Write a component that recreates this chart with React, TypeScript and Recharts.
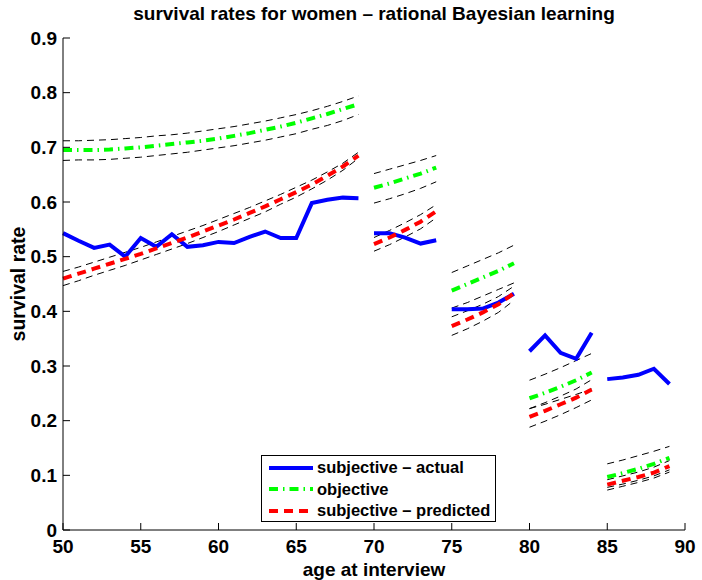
import { LineChart, Line, XAxis, YAxis } from "recharts";

// ages at interview, one cohort every 5 years
const ages = [
  50, 51, 52, 53, 54, 55, 56, 57, 58, 59, 60, 61, 62, 63, 64, 65, 66, 67, 68, 69,
  70, 71, 72, 73, 74,
  75, 76, 77, 78, 79,
  80, 81, 82, 83, 84,
  85, 86, 87, 88, 89,
];
const cohortStarts = [70, 75, 80, 85];

const actual = [
  0.543, 0.529, 0.516, 0.522, 0.5, 0.534, 0.518, 0.541, 0.518, 0.521, 0.527, 0.525, 0.536, 0.546, 0.534, 0.534, 0.598, 0.604, 0.608, 0.607,
  0.543, 0.543, 0.535, 0.524, 0.53,
  0.404, 0.404, 0.405, 0.416, 0.432,
  0.327, 0.356, 0.324, 0.313, 0.361,
  0.276, 0.279, 0.284, 0.295, 0.267,
];
const objective = [
  0.695, 0.695, 0.695, 0.696, 0.698, 0.7, 0.703, 0.706, 0.709, 0.712, 0.716, 0.721, 0.726, 0.732, 0.738, 0.745, 0.753, 0.761, 0.77, 0.779,
  0.626, 0.634, 0.643, 0.652, 0.663,
  0.438, 0.45, 0.462, 0.474, 0.488,
  0.241, 0.251, 0.262, 0.274, 0.288,
  0.097, 0.104, 0.112, 0.121, 0.132,
];
const objectiveHi = [
  0.712, 0.712, 0.713, 0.714, 0.716, 0.718, 0.721, 0.723, 0.726, 0.73, 0.734, 0.738, 0.743, 0.748, 0.754, 0.76, 0.767, 0.775, 0.784, 0.794,
  0.652, 0.66, 0.668, 0.676, 0.685,
  0.471, 0.483, 0.495, 0.507, 0.521,
  0.274, 0.285, 0.297, 0.31, 0.323,
  0.121, 0.128, 0.136, 0.144, 0.153,
];
const objectiveLo = [
  0.676, 0.677, 0.677, 0.678, 0.68, 0.682, 0.685, 0.688, 0.691, 0.695, 0.699, 0.703, 0.708, 0.713, 0.719, 0.725, 0.733, 0.74, 0.749, 0.76,
  0.598, 0.606, 0.615, 0.625, 0.637,
  0.406, 0.416, 0.428, 0.44, 0.452,
  0.222, 0.23, 0.239, 0.248, 0.258,
  0.078, 0.084, 0.091, 0.099, 0.11,
];
const predicted = [
  0.46, 0.469, 0.478, 0.487, 0.496, 0.505, 0.515, 0.525, 0.535, 0.546, 0.557, 0.568, 0.58, 0.592, 0.605, 0.618, 0.632, 0.648, 0.665, 0.685,
  0.523, 0.535, 0.549, 0.564, 0.583,
  0.373, 0.385, 0.398, 0.413, 0.433,
  0.207, 0.218, 0.23, 0.242, 0.257,
  0.083, 0.09, 0.097, 0.105, 0.117,
];
const predictedHi = [
  0.473, 0.481, 0.49, 0.499, 0.508, 0.517, 0.527, 0.537, 0.547, 0.557, 0.568, 0.579, 0.59, 0.602, 0.614, 0.627, 0.64, 0.655, 0.671, 0.691,
  0.535, 0.548, 0.562, 0.577, 0.595,
  0.39, 0.401, 0.413, 0.427, 0.446,
  0.222, 0.233, 0.245, 0.258, 0.275,
  0.092, 0.099, 0.106, 0.115, 0.127,
];
const predictedLo = [
  0.447, 0.456, 0.466, 0.475, 0.484, 0.494, 0.504, 0.514, 0.524, 0.535, 0.546, 0.558, 0.57, 0.582, 0.596, 0.609, 0.624, 0.64, 0.658, 0.68,
  0.51, 0.522, 0.536, 0.551, 0.571,
  0.356, 0.368, 0.382, 0.398, 0.42,
  0.188, 0.199, 0.211, 0.224, 0.238,
  0.073, 0.08, 0.087, 0.095, 0.106,
];

const xTicks = [50, 55, 60, 65, 70, 75, 80, 85, 90];
const yTicks = [0, 0.1, 0.2, 0.3, 0.4, 0.5, 0.6, 0.7, 0.8, 0.9];

const FONT = '"Liberation Sans", Arial, Helvetica, sans-serif';

// rows for the chart, with an empty row between cohorts so lines break
const rows: any[] = [];
ages.forEach((age, i) => {
  if (cohortStarts.includes(age)) {
    rows.push({
      age: age - 0.5,
      actual: null, objective: null, objectiveHi: null, objectiveLo: null,
      predicted: null, predictedHi: null, predictedLo: null,
    });
  }
  rows.push({
    age,
    actual: actual[i],
    objective: objective[i],
    objectiveHi: objectiveHi[i],
    objectiveLo: objectiveLo[i],
    predicted: predicted[i],
    predictedHi: predictedHi[i],
    predictedLo: predictedLo[i],
  });
});

const tickStyle = { fill: "#000", fontSize: 19, fontWeight: "bold", fontFamily: FONT };

const bandProps = {
  stroke: "#000",
  strokeWidth: 1,
  strokeDasharray: "7 5",
  dot: false,
  isAnimationActive: false,
};

function LegendRow({ color, dash, label }: { color: string; dash?: string; label: string }) {
  return (
    <div style={{ display: "flex", alignItems: "center", height: 21.5 }}>
      <svg width={48} height={10} style={{ marginLeft: 7 }}>
        <line x1={0} x2={44} y1={5} y2={5} stroke={color} strokeWidth={4} strokeDasharray={dash} />
      </svg>
      <span>{label}</span>
    </div>
  );
}

export default function App() {
  return (
    <div style={{ position: "absolute", left: 0, top: 0, width: 702, height: 580, background: "#fff", fontFamily: FONT }}>
      <LineChart width={702} height={580} data={rows} margin={{ top: 38, right: 17, bottom: 0, left: 0 }}>
        <XAxis
          dataKey="age"
          type="number"
          domain={[50, 90]}
          ticks={xTicks}
          height={50}
          axisLine={{ stroke: "#000" }}
          tickLine={{ stroke: "#000" }}
          tickSize={-7}
          tickMargin={17}
          tick={tickStyle}
        />
        <YAxis
          type="number"
          domain={[0, 0.9]}
          ticks={yTicks}
          width={63}
          axisLine={{ stroke: "#000" }}
          tickLine={{ stroke: "#000" }}
          tickSize={-7}
          tickMargin={13}
          tick={tickStyle}
          tickFormatter={(v: number) => (v === 0 ? "0" : v.toFixed(1))}
        />
        <Line dataKey="objectiveHi" {...bandProps} />
        <Line dataKey="objectiveLo" {...bandProps} />
        <Line dataKey="predictedHi" {...bandProps} />
        <Line dataKey="predictedLo" {...bandProps} />
        <Line dataKey="actual" stroke="#0000ff" strokeWidth={4} dot={false} isAnimationActive={false} />
        <Line dataKey="objective" stroke="#00ff00" strokeWidth={4} strokeDasharray="9 5 1.5 5" dot={false} isAnimationActive={false} />
        <Line dataKey="predicted" stroke="#ff0000" strokeWidth={4} strokeDasharray="9 6" dot={false} isAnimationActive={false} />
      </LineChart>

      <div style={{ position: "absolute", left: 63, width: 622, top: 3, textAlign: "center", fontSize: 19, fontWeight: "bold" }}>
        survival rates for women – rational Bayesian learning
      </div>
      <div
        style={{
          position: "absolute", left: 63, width: 622, top: 560, textAlign: "center",
          fontSize: 19, lineHeight: "19px", fontWeight: "bold",
        }}
      >
        age at interview
      </div>
      <div
        style={{
          position: "absolute", left: 18, top: 284, fontSize: 19.5, fontWeight: "bold", whiteSpace: "nowrap",
          transform: "translate(-50%, -50%) rotate(-90deg)",
        }}
      >
        survival rate
      </div>

      <div
        style={{
          position: "absolute", left: 261, top: 455, width: 235, height: 67, boxSizing: "border-box",
          border: "1px solid #000", background: "#fff", fontSize: 16.5, fontWeight: "bold", paddingTop: 1,
        }}
      >
        <LegendRow color="#0000ff" label="subjective – actual" />
        <LegendRow color="#00ff00" dash="9 5 1.5 5" label="objective" />
        <LegendRow color="#ff0000" dash="9 6" label="subjective – predicted" />
      </div>
    </div>
  );
}
